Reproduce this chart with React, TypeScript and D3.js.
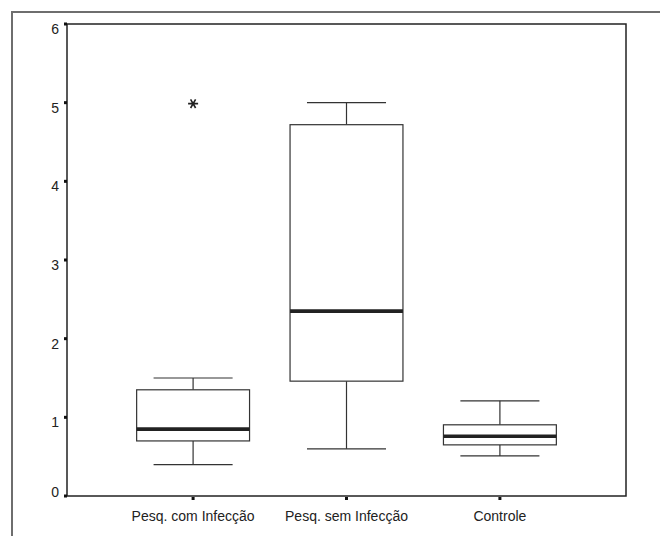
import React from "react";
import * as d3 from "d3";

const categories = ["Pesq. com Infecção", "Pesq. sem Infecção", "Controle"];
const whiskerLow = [0.4, 0.6, 0.51];
const q1 = [0.7, 1.46, 0.65];
const median = [0.85, 2.35, 0.76];
const q3 = [1.35, 4.72, 0.905];
const whiskerHigh = [1.5, 5.0, 1.21];
const outliers: { cat: number; value: number }[] = [{ cat: 0, value: 5.0 }];
const yTicks = [0, 1, 2, 3, 4, 5, 6];

const W = 660;
const H = 536;
const plot = { left: 67, top: 24, right: 626, bottom: 496 };

export default function App() {
  const y = d3.scaleLinear().domain([0, 6]).range([plot.bottom, plot.top]);
  const x = d3
    .scalePoint<string>()
    .domain(categories)
    .range([plot.left, plot.right])
    .padding(0.822);
  const step = x.step();
  const boxW = step * 0.736;
  const capW = boxW * 0.7;
  const star = d3.symbol(d3.symbolAsterisk, 70)() as string;
  const font = "Arial, 'Liberation Sans', sans-serif";

  return (
    <svg
      width={W}
      height={H}
      style={{ position: "absolute", left: 0, top: 0, display: "block", background: "#fff" }}
    >
      {/* outer frame */}
      <line x1={12} y1={12} x2={W} y2={12} stroke="#6e6e6e" strokeWidth={2} />
      <line x1={12} y1={11} x2={12} y2={H} stroke="#6e6e6e" strokeWidth={2} />

      {/* plot frame */}
      <rect
        x={plot.left}
        y={plot.top}
        width={plot.right - plot.left}
        height={plot.bottom - plot.top}
        fill="none"
        stroke="#222"
        strokeWidth={1.5}
      />

      {/* y ticks */}
      {yTicks.map((t) => (
        <g key={t}>
          <rect x={64} y={y(t) - 1.5} width={3} height={3} fill="#111" />
          <text
            x={59}
            y={t === 0 ? y(t) + 1 : y(t) + 10}
            textAnchor="end"
            fontFamily={font}
            fontSize={14}
            fill="#222"
          >
            {t}
          </text>
        </g>
      ))}

      {/* x ticks and labels */}
      {categories.map((c) => (
        <g key={c}>
          <rect x={(x(c) as number) - 1.5} y={497} width={3} height={3} fill="#111" />
          <text
            x={x(c) as number}
            y={521}
            textAnchor="middle"
            fontFamily={font}
            fontSize={14}
            fill="#222"
          >
            {c}
          </text>
        </g>
      ))}

      {/* boxes */}
      {categories.map((c, i) => {
        const cx = x(c) as number;
        return (
          <g key={"b" + c} stroke="#333" strokeWidth={1.2} fill="none">
            <line x1={cx} x2={cx} y1={y(whiskerHigh[i])} y2={y(q3[i])} />
            <line x1={cx} x2={cx} y1={y(q1[i])} y2={y(whiskerLow[i])} />
            <line x1={cx - capW / 2} x2={cx + capW / 2} y1={y(whiskerHigh[i])} y2={y(whiskerHigh[i])} />
            <line x1={cx - capW / 2} x2={cx + capW / 2} y1={y(whiskerLow[i])} y2={y(whiskerLow[i])} />
            <rect
              x={cx - boxW / 2}
              y={y(q3[i])}
              width={boxW}
              height={y(q1[i]) - y(q3[i])}
              fill="#fff"
            />
            <line
              x1={cx - boxW / 2}
              x2={cx + boxW / 2}
              y1={y(median[i])}
              y2={y(median[i])}
              stroke="#222"
              strokeWidth={3.6}
            />
          </g>
        );
      })}

      {/* outliers */}
      {outliers.map((o, i) => (
        <path
          key={"o" + i}
          d={star}
          transform={`translate(${x(categories[o.cat])},${y(o.value) + 1}) rotate(90)`}
          fill="none"
          stroke="#222"
          strokeWidth={1.6}
        />
      ))}
    </svg>
  );
}
